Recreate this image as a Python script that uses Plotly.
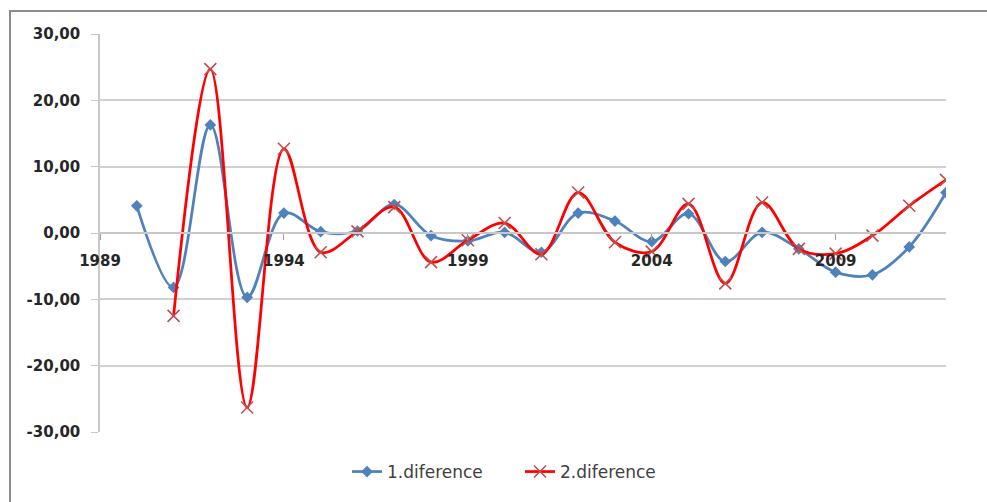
import plotly.graph_objects as go

# First and second differences by year
years_1 = list(range(1990, 2013))
diff_1 = [4.1, -8.2, 16.3, -9.7, 3.0, 0.2, 0.3, 4.3, -0.4, -1.2, 0.1, -2.9,
          3.0, 1.8, -1.3, 2.9, -4.3, 0.1, -2.4, -5.9, -6.3, -2.1, 6.1]

years_2 = list(range(1991, 2013))
diff_2 = [-12.5, 24.7, -26.3, 12.7, -2.9, 0.25, 3.9, -4.4, -1.1, 1.5, -3.2,
          6.1, -1.4, -2.8, 4.4, -7.6, 4.6, -2.4, -3.1, -0.4, 4.1, 8.0]

x_ticks = [1989, 1994, 1999, 2004, 2009]
y_ticks = [-30, -20, -10, 0, 10, 20, 30]
y_ticktext = [f"{v:.2f}".replace(".", ",") for v in y_ticks]

W, H = 987, 502
ML, MR, MT, MB = 100, 41, 34, 70
PW, PH = W - ML - MR, H - MT - MB

tick_font = dict(family="DejaVu Sans, sans-serif", size=15, color="#262626",
                 weight="bold")
legend_font = dict(family="DejaVu Sans, sans-serif", size=17, color="#404040")

fig = go.Figure()
fig.add_trace(go.Scatter(
    x=years_1, y=diff_1, name="1.diference", mode="lines+markers",
    line=dict(color="#4F81BD", width=2.75, shape="spline", smoothing=1),
    marker=dict(symbol="diamond", size=9, color="#4F81BD"),
))
fig.add_trace(go.Scatter(
    x=years_2, y=diff_2, name="2.diference", mode="lines+markers",
    line=dict(color="#FF0000", width=2.75, shape="spline", smoothing=1),
    marker=dict(symbol="x-thin", size=12, color="#C0504D",
                line=dict(color="#C0504D", width=1.6)),
))


def px_x(p):
    return (p - ML) / PW


def px_y(p):
    return (H - MB - p) / PH


# Outer chart frame
fig.add_shape(type="rect", xref="paper", yref="paper",
              x0=px_x(10), x1=px_x(995), y0=px_y(510), y1=px_y(11),
              line=dict(color="#8c8c8c", width=2), fillcolor="rgba(0,0,0,0)",
              layer="below")

fig.update_layout(
    width=W, height=H,
    margin=dict(l=ML, r=MR, t=MT, b=MB),
    paper_bgcolor="white", plot_bgcolor="white",
    showlegend=True,
    legend=dict(orientation="h", x=px_x(520), xanchor="center",
                y=px_y(472), yanchor="middle", font=legend_font,
                entrywidth=128, entrywidthmode="pixels"),
    xaxis=dict(
        range=[1989, 2012], tickvals=x_ticks, ticktext=[str(v) for v in x_ticks],
        anchor="free", position=0.5, showgrid=False, zeroline=False,
        showline=True, linecolor="#c8c8c8", linewidth=1.5,
        ticks="outside", ticklen=6, tickcolor="#a0a0a0",
        ticklabelstandoff=8, tickfont=tick_font,
    ),
    yaxis=dict(
        range=[-30, 30], tickvals=y_ticks, ticktext=y_ticktext,
        showgrid=True, gridcolor="#d0d0d0", gridwidth=1.5, zeroline=False,
        showline=True, linecolor="#c8c8c8", linewidth=1.5,
        ticks="outside", ticklen=7, tickcolor="#c8c8c8",
        ticklabelstandoff=8, tickfont=tick_font,
    ),
)

fig.write_html("out.html")
